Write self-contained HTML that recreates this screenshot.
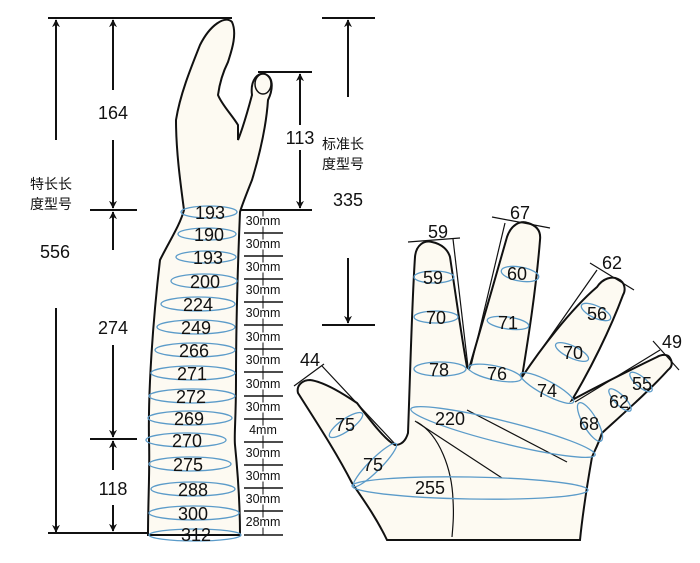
<!DOCTYPE html>
<html><head><meta charset="utf-8"><style>
html,body{margin:0;padding:0;background:#fff;}
svg{display:block;}
text{font-family:"Liberation Sans","Noto Sans CJK SC",sans-serif;fill:#111;}
.n{font-size:18px;text-anchor:middle;}
.m{font-size:12.5px;text-anchor:middle;}
.c{font-size:14px;}
</style></head><body>
<svg width="700" height="563" viewBox="0 0 700 563" xmlns="http://www.w3.org/2000/svg">
<defs>
<marker id="a" viewBox="0 0 10 10" refX="9" refY="5" markerWidth="8" markerHeight="10" orient="auto-start-reverse" markerUnits="userSpaceOnUse"><path d="M0,0 L10,5 L0,10 L3,5 z" fill="#111"/></marker>
</defs>
<g stroke="#111" stroke-width="2" fill="none">
<line x1="48" y1="18" x2="232" y2="18"/>
<line x1="56" y1="140" x2="56" y2="20" marker-end="url(#a)"/>
<line x1="56" y1="308" x2="56" y2="532" marker-end="url(#a)"/>
<line x1="48" y1="533" x2="150" y2="533"/>
<line x1="113" y1="90" x2="113" y2="20" marker-end="url(#a)"/>
<line x1="113" y1="140" x2="113" y2="208" marker-end="url(#a)"/>
<line x1="90" y1="210" x2="137" y2="210"/>
<line x1="113" y1="250" x2="113" y2="212" marker-end="url(#a)"/>
<line x1="113" y1="345" x2="113" y2="437" marker-end="url(#a)"/>
<line x1="90" y1="439" x2="137" y2="439"/>
<line x1="113" y1="470" x2="113" y2="441" marker-end="url(#a)"/>
<line x1="113" y1="505" x2="113" y2="531" marker-end="url(#a)"/>
<line x1="258" y1="72" x2="312" y2="72"/>
<line x1="300" y1="125" x2="300" y2="74" marker-end="url(#a)"/>
<line x1="300" y1="150" x2="300" y2="208" marker-end="url(#a)"/>
<line x1="240" y1="210" x2="312" y2="210"/>
<line x1="322" y1="18" x2="375" y2="18"/>
<line x1="348" y1="97" x2="348" y2="20" marker-end="url(#a)"/>
<line x1="348" y1="258" x2="348" y2="323" marker-end="url(#a)"/>
<line x1="322" y1="325" x2="375" y2="325"/>
</g>
<path d="M184,210 C180,180 176,150 176,120 C180,95 190,70 200,45 C210,25 225,15 232,22 C238,35 230,55 228,62 C224,70 220,80 218,95 C222,105 232,115 238,125 L238,140 C242,130 248,110 252,95 C250,80 258,72 265,74 C275,78 272,92 268,100 C266,130 258,160 252,180 C246,195 242,205 240,212 C238,260 236,330 236,380 C236,420 234,435 235,445 C238,475 240,505 240,535 L148,535 C148,500 150,470 149,440 C148,390 153,320 160,260 C170,240 180,225 184,210 Z" fill="#fdfaf2" stroke="#111" stroke-width="2"/>
<ellipse cx="263" cy="84" rx="8" ry="10" fill="#fdfaf2" stroke="#111" stroke-width="1.5"/>
<g fill="none" stroke="#5b9bc9" stroke-width="1.3">
<ellipse cx="209" cy="212" rx="28" ry="6"/><ellipse cx="207" cy="234" rx="29" ry="6"/><ellipse cx="206" cy="257" rx="30" ry="6"/>
<ellipse cx="204" cy="281" rx="33" ry="7"/><ellipse cx="198" cy="304" rx="37" ry="7"/><ellipse cx="196" cy="327" rx="39" ry="7"/>
<ellipse cx="195" cy="350" rx="40" ry="7"/><ellipse cx="193" cy="373" rx="42" ry="7"/><ellipse cx="192" cy="396" rx="43" ry="7"/>
<ellipse cx="190" cy="418" rx="42" ry="7"/><ellipse cx="186" cy="440" rx="40" ry="7"/><ellipse cx="190" cy="464" rx="41" ry="7"/>
<ellipse cx="193" cy="489" rx="42" ry="7"/><ellipse cx="194" cy="513" rx="45" ry="7"/><ellipse cx="195" cy="535" rx="46" ry="6"/>
</g>
<g class="n">
<text x="210" y="219">193</text><text x="209" y="241">190</text><text x="208" y="264">193</text><text x="205" y="288">200</text>
<text x="198" y="311">224</text><text x="196" y="334">249</text><text x="194" y="357">266</text><text x="192" y="380">271</text>
<text x="191" y="403">272</text><text x="189" y="425">269</text><text x="187" y="447">270</text><text x="188" y="471">275</text>
<text x="193" y="496">288</text><text x="193" y="520">300</text><text x="196" y="541">312</text>
<text x="113" y="119">164</text><text x="55" y="258">556</text><text x="113" y="334">274</text><text x="113" y="495">118</text>
<text x="300" y="144">113</text><text x="348" y="206">335</text>
</g>
<g class="c"><text x="30" y="189">特长长</text><text x="30" y="209">度型号</text>
<text x="322" y="149">标准长</text><text x="322" y="169">度型号</text></g>
<g stroke="#111" stroke-width="1.6">
<line x1="244" y1="233" x2="283" y2="233"/><line x1="244" y1="256" x2="283" y2="256"/><line x1="244" y1="279" x2="283" y2="279"/>
<line x1="244" y1="302" x2="283" y2="302"/><line x1="244" y1="325" x2="283" y2="325"/><line x1="244" y1="349" x2="283" y2="349"/>
<line x1="244" y1="372" x2="283" y2="372"/><line x1="244" y1="396" x2="283" y2="396"/><line x1="244" y1="419" x2="283" y2="419"/>
<line x1="244" y1="442" x2="283" y2="442"/><line x1="244" y1="465" x2="283" y2="465"/><line x1="244" y1="488" x2="283" y2="488"/>
<line x1="244" y1="511" x2="283" y2="511"/><line x1="244" y1="535" x2="283" y2="535"/>
</g>
<g stroke="#111" stroke-width="1"><line x1="263" y1="211" x2="263" y2="535"/></g>
<g class="m" style="paint-order:stroke" stroke="#fff" stroke-width="3">
<text x="263" y="225">30mm</text><text x="263" y="248">30mm</text><text x="263" y="271">30mm</text><text x="263" y="294">30mm</text>
<text x="263" y="317">30mm</text><text x="263" y="341">30mm</text><text x="263" y="364">30mm</text><text x="263" y="388">30mm</text>
<text x="263" y="411">30mm</text><text x="263" y="434">4mm</text><text x="263" y="457">30mm</text><text x="263" y="480">30mm</text>
<text x="263" y="503">30mm</text><text x="263" y="526">28mm</text>
</g>
<path d="M387,540 C375,515 360,495 352,483 C335,450 315,420 298,393 C296,385 303,380 310,380 C325,382 345,395 357,403 C370,420 385,440 395,445 C402,445 406,440 408,433 C410,380 412,300 415,257 C416,245 424,240 432,242 C442,244 448,250 450,257 C455,290 462,340 467,367 L469,369 C480,330 495,280 507,237 C511,225 520,220 528,223 C538,226 541,232 540,240 C536,290 528,340 522,377 C540,350 570,310 597,287 C603,278 612,276 618,279 C625,282 626,290 623,295 C610,330 590,370 572,400 C600,385 630,370 657,357 C662,354 668,354 670,358 C673,363 672,367 668,370 C650,390 625,412 602,433 C598,445 594,452 592,457 C588,480 583,510 580,540 Z" fill="#fdfaf2" stroke="#111" stroke-width="2"/>
<g fill="none" stroke="#111" stroke-width="1.2">
<line x1="467" y1="410" x2="567" y2="462"/><line x1="415" y1="421" x2="502" y2="478"/>
<path d="M417,422 C440,435 452,470 453,500 C454,515 453,525 452,537"/>
<line x1="408" y1="242" x2="460" y2="238"/><line x1="453" y1="239" x2="468" y2="367"/>
<line x1="492" y1="217" x2="550" y2="228"/><line x1="505" y1="223" x2="471" y2="366"/>
<line x1="590" y1="263" x2="634" y2="290"/><line x1="597" y1="270" x2="522" y2="377"/>
<line x1="653" y1="341" x2="679" y2="370"/><line x1="660" y1="350" x2="575" y2="402"/>
<line x1="294" y1="386" x2="324" y2="364"/><line x1="322" y1="366" x2="395" y2="444"/>
</g>
<g fill="none" stroke="#5b9bc9" stroke-width="1.3">
<ellipse cx="434" cy="277" rx="20" ry="6"/><ellipse cx="436" cy="317" rx="22" ry="6"/><ellipse cx="440" cy="369" rx="26" ry="7"/>
<ellipse cx="520" cy="274" rx="19" ry="7" transform="rotate(10 520 274)"/><ellipse cx="508" cy="323" rx="21" ry="6" transform="rotate(8 508 323)"/>
<ellipse cx="495" cy="373" rx="27" ry="7" transform="rotate(12 495 373)"/>
<ellipse cx="596" cy="312" rx="16" ry="6" transform="rotate(25 596 312)"/><ellipse cx="572" cy="352" rx="18" ry="6" transform="rotate(25 572 352)"/>
<ellipse cx="547" cy="388" rx="30" ry="7" transform="rotate(28 547 388)"/>
<ellipse cx="641" cy="382" rx="14" ry="5" transform="rotate(40 641 382)"/><ellipse cx="620" cy="400" rx="15" ry="5" transform="rotate(45 620 400)"/>
<ellipse cx="590" cy="422" rx="22" ry="7" transform="rotate(60 590 422)"/>
<ellipse cx="503" cy="432" rx="95" ry="11" transform="rotate(14 503 432)"/>
<ellipse cx="470" cy="488" rx="118" ry="11" transform="rotate(1 470 488)"/>
<ellipse cx="346" cy="425" rx="20" ry="6" transform="rotate(-35 346 425)"/>
<ellipse cx="375" cy="465" rx="30" ry="6" transform="rotate(-45 375 465)"/>
</g>
<g class="n">
<text x="438" y="238">59</text><text x="520" y="219">67</text><text x="612" y="269">62</text><text x="672" y="348">49</text><text x="310" y="366">44</text>
<text x="433" y="284">59</text><text x="436" y="324">70</text><text x="439" y="376">78</text>
<text x="517" y="280">60</text><text x="508" y="329">71</text><text x="497" y="380">76</text>
<text x="597" y="320">56</text><text x="573" y="359">70</text><text x="547" y="397">74</text>
<text x="642" y="390">55</text><text x="619" y="408">62</text><text x="589" y="430">68</text>
<text x="450" y="425">220</text><text x="430" y="494">255</text>
<text x="345" y="431">75</text><text x="373" y="471">75</text>
</g>
</svg>
</body></html>
